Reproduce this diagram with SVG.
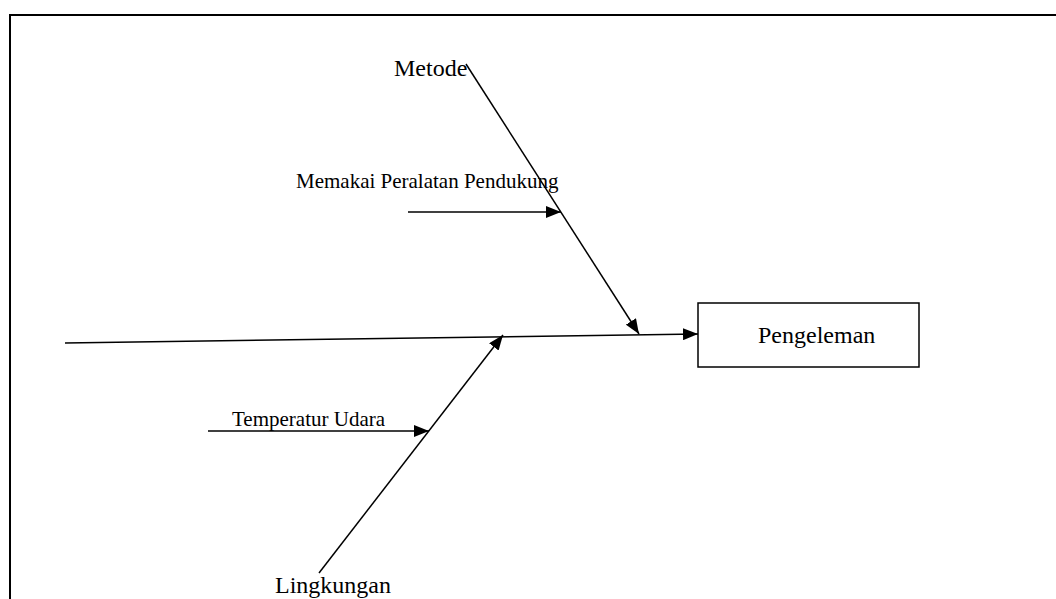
<svg xmlns="http://www.w3.org/2000/svg" width="1056" height="599" viewBox="0 0 1056 599">
<style>
.lbl{font-family:"Liberation Serif","Times New Roman",serif;fill:#000}
.big{font-size:24px}
.small{font-size:21px}
.ln{stroke:#000;stroke-width:1.5;fill:none}
</style>
<defs>
<marker id="ah" markerUnits="userSpaceOnUse" markerWidth="16" markerHeight="12" refX="15" refY="6" orient="auto">
<path d="M0,0 L15,6 L0,12 Z" fill="#000"/>
</marker>
</defs>
<rect x="0" y="0" width="1056" height="599" fill="#fff"/>
<rect id="frame" x="10" y="15" width="1100" height="640" fill="none" stroke="#000" stroke-width="2"/>
<g id="connectors">
<line class="ln" x1="65" y1="343" x2="698" y2="334" marker-end="url(#ah)"/>
<line class="ln" x1="466" y1="64" x2="639" y2="334" marker-end="url(#ah)"/>
<line class="ln" x1="408" y1="212" x2="561" y2="212" marker-end="url(#ah)"/>
<line class="ln" x1="319" y1="573" x2="503" y2="335" marker-end="url(#ah)"/>
<line class="ln" x1="208" y1="431" x2="429" y2="431" marker-end="url(#ah)"/>
</g>
<g id="metode"><text class="lbl big" x="394" y="76">Metode</text></g>
<g id="memakai"><text class="lbl small" x="296" y="188">Memakai Peralatan Pendukung</text></g>
<g id="temperatur"><text class="lbl small" x="232" y="426">Temperatur Udara</text></g>
<g id="lingkungan"><text class="lbl big" x="275" y="593">Lingkungan</text></g>
<g id="pengeleman">
<rect x="698" y="303" width="221" height="64" fill="#fff" stroke="#000" stroke-width="1.5"/>
<text class="lbl big" x="758" y="343">Pengeleman</text>
</g>
</svg>
